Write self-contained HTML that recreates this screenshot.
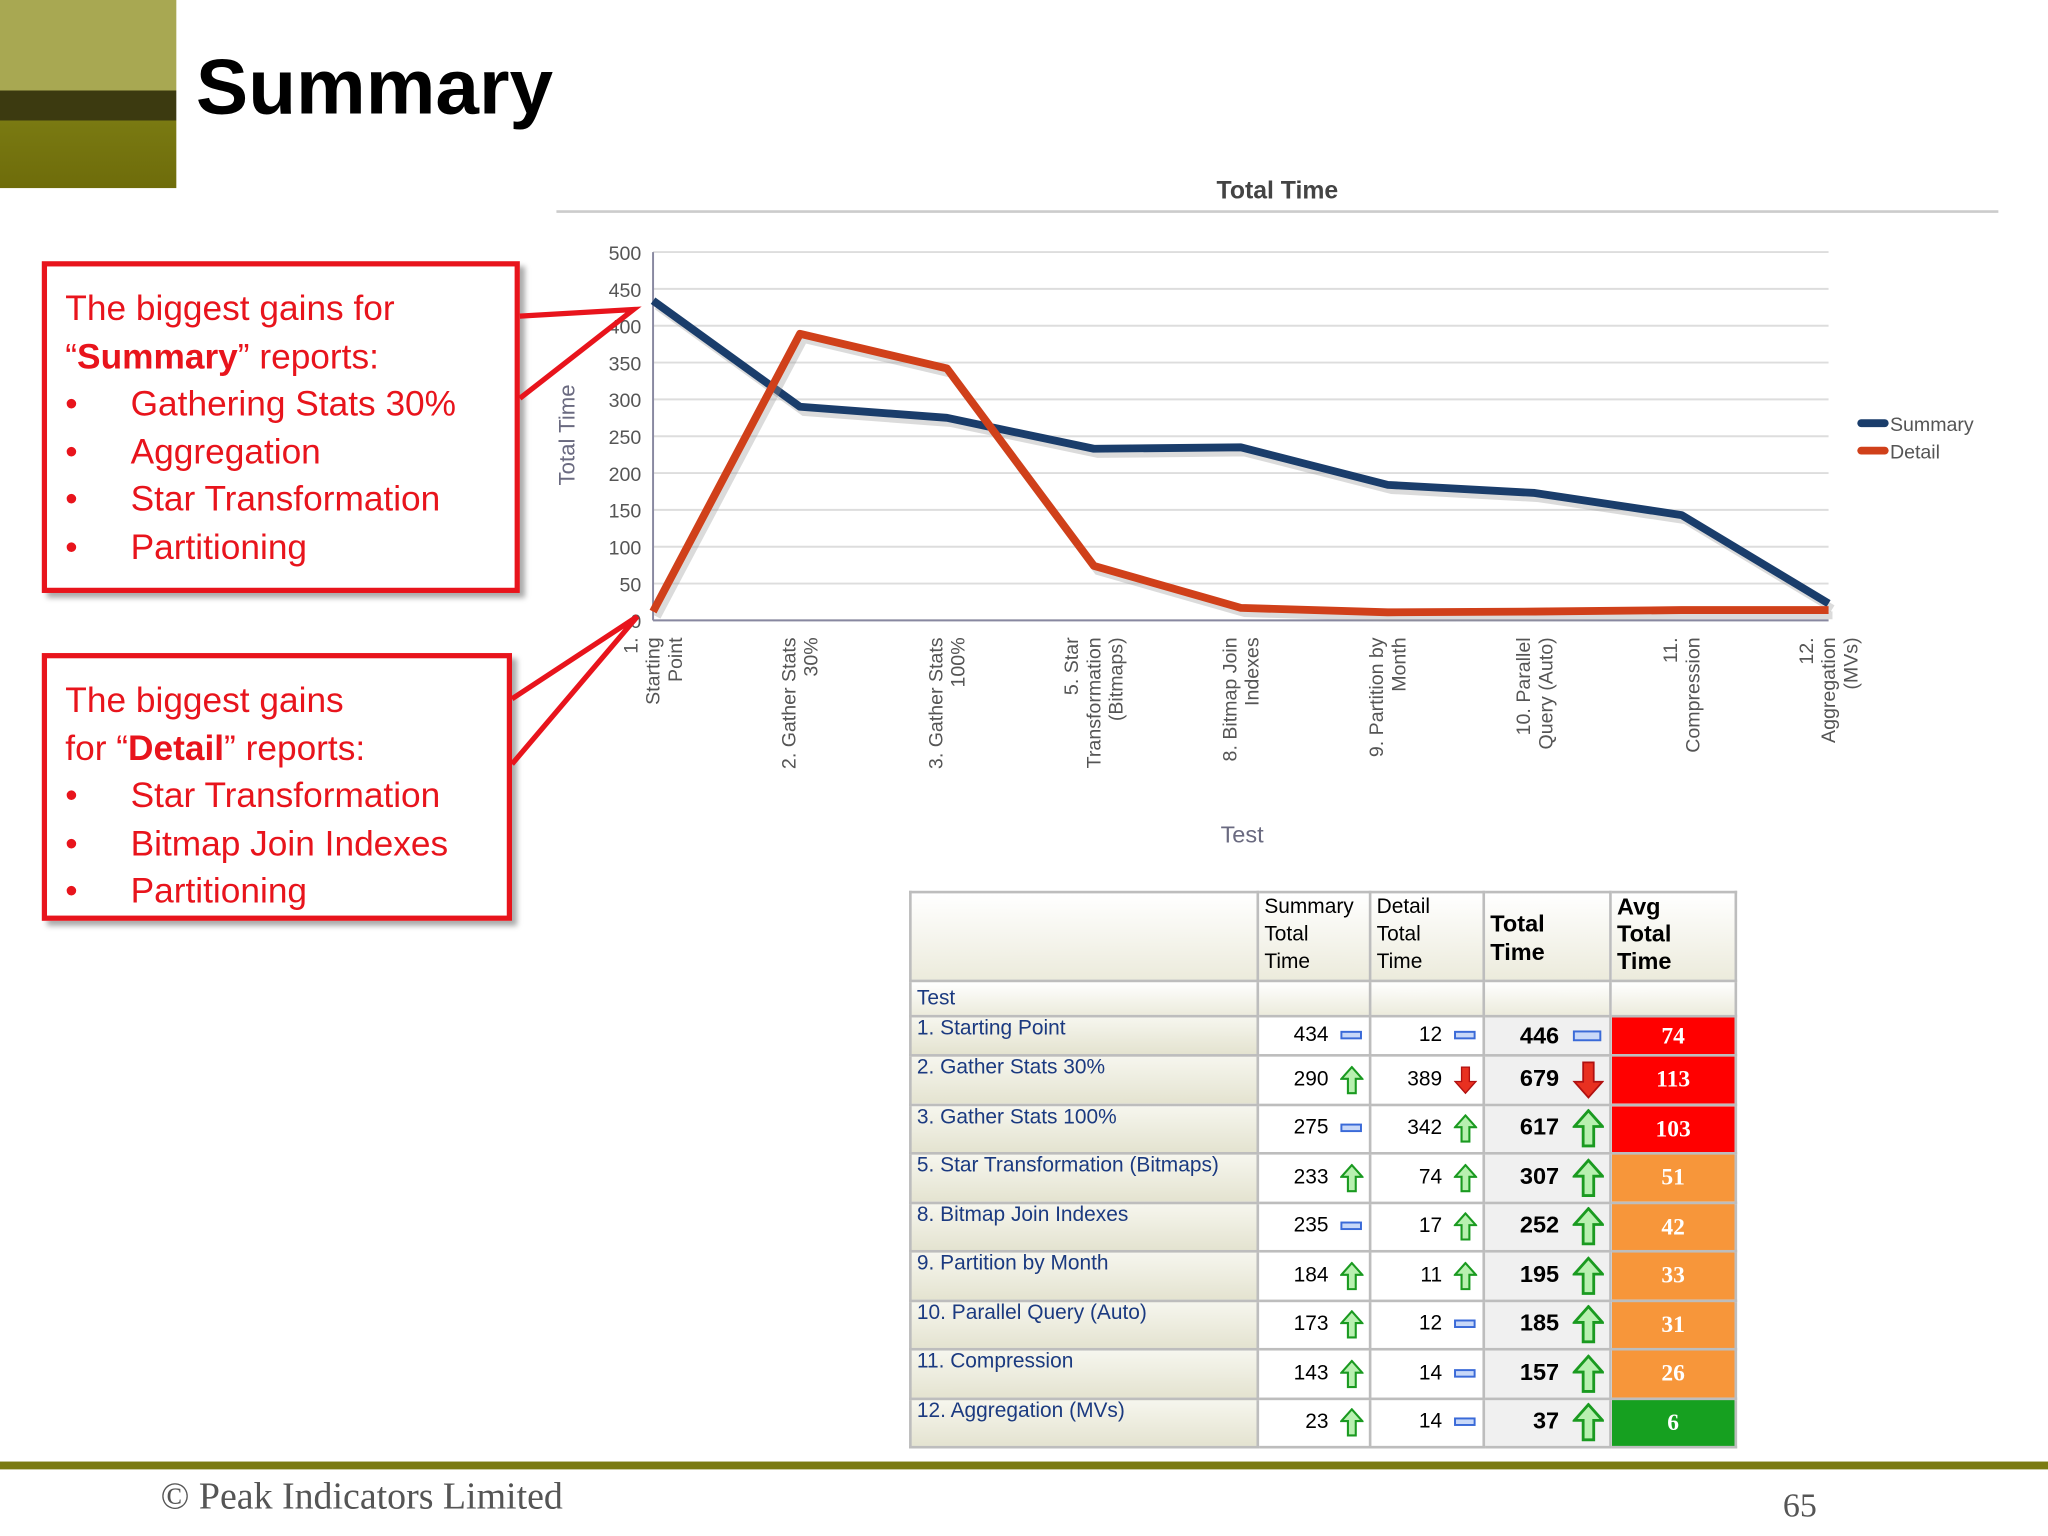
<!DOCTYPE html>
<html><head><meta charset="utf-8"><style>
body{margin:0;width:2048px;height:1536px;overflow:hidden;background:#fff;font-family:"Liberation Sans",sans-serif}
#w{position:absolute;left:0;top:0;width:1568px;height:1176px;transform:scale(1.30612);transform-origin:0 0}
.a{position:absolute}
.box{position:absolute;border:4px solid #e8141c;box-shadow:4px 4px 4px #aaa;background:#fff;color:#e8141c;font-size:27px;line-height:36.5px;padding:14px 14px;box-sizing:border-box}
.box ul{margin:0;padding:0;list-style:none}
.box li{position:relative;padding-left:50px}
.box li:before{content:"•";position:absolute;left:0}
table{position:absolute;left:696px;top:682px;width:632px;table-layout:fixed;border-collapse:collapse;font-family:"Liberation Sans",sans-serif;font-size:16px;color:#000}
td{border:2px solid #bdbdbd;padding:0 4px;box-sizing:border-box;white-space:nowrap;overflow:hidden}
.h td{background:linear-gradient(#fff,#ecebdc);vertical-align:top}
.lab{background:linear-gradient(#f6f6ee,#e4e3d0);color:#1b3a80;vertical-align:top}
.n{text-align:right;background:#fff}
.t{text-align:right;background:#f0f0f0;font-weight:bold}
.av{color:#fff;font-weight:bold;text-align:center;font-family:"Liberation Serif",serif;font-size:18px}
</style></head><body><div id="w">
<div class="a" style="left:0;top:0;width:135px;height:144px;background:linear-gradient(#a8a852 0,#a8a852 48%,#3c3a10 48%,#3c3a10 64%,#7a7a12 64%,#6e6c0a 100%)"></div>
<div class="a" style="left:150px;top:32px;font-size:60px;font-weight:bold;color:#000">Summary</div>
<div class="box" style="left:32px;top:200px;width:366px;height:254px">The biggest gains for<br>“<b>Summary</b>” reports:<ul><li>Gathering Stats 30%</li><li>Aggregation</li><li>Star Transformation</li><li>Partitioning</li></ul></div>
<div class="box" style="left:32px;top:500px;width:360px;height:205px">The biggest gains<br>for “<b>Detail</b>” reports:<ul><li>Star Transformation</li><li>Bitmap Join Indexes</li><li>Partitioning</li></ul></div>
<svg class="a" style="left:0;top:0" width="1568" height="1176" id="chart">
<text x="978" y="152" text-anchor="middle" font-size="19" font-weight="bold" fill="#444">Total Time</text>
<line x1="426" y1="162" x2="1530" y2="162" stroke="#ccc" stroke-width="2"/>
<g id="grid"></g><g id="lines"></g>
<text transform="translate(440,333) rotate(-90)" text-anchor="middle" font-size="17" fill="#6a6a80">Total Time</text>
<text x="951" y="645" text-anchor="middle" font-size="18" fill="#6a6a80">Test</text>
<g><line x1="1425" y1="324" x2="1443" y2="324" stroke="#1a3d6b" stroke-width="6" stroke-linecap="round"/><text x="1447" y="330" font-size="15" fill="#555">Summary</text>
<line x1="1425" y1="345" x2="1443" y2="345" stroke="#d0401a" stroke-width="6" stroke-linecap="round"/><text x="1447" y="351" font-size="15" fill="#555">Detail</text></g>
<polyline points="398,242 485,237 398,305" fill="none" stroke="#e8141c" stroke-width="4"/>
<polyline points="392,535 488,472 392,585" fill="none" stroke="#e8141c" stroke-width="4"/>
</svg>
<table>
<colgroup><col style="width:266px"><col style="width:86px"><col style="width:87px"><col style="width:97px"><col style="width:96px"></colgroup>
<tr class="h" style="height:68px"><td></td><td style="line-height:21px">Summary<br>Total<br>Time</td><td style="line-height:21px">Detail<br>Total<br>Time</td><td style="font-weight:bold;font-size:18px;line-height:22px;padding-top:12px">Total<br>Time</td><td style="font-weight:bold;font-size:18px;line-height:21px">Avg<br>Total<br>Time</td></tr>
<tr class="h" style="height:27px"><td style="color:#1b3a80;vertical-align:middle">Test</td><td></td><td></td><td></td><td></td></tr>
<tbody id="tb"></tbody></table>
<div class="a" style="left:0;top:1119px;width:1568px;height:6px;background:#7a7a12"></div>
<div class="a" style="left:123px;top:1130px;font-family:'Liberation Serif',serif;font-size:29px;color:#555">© Peak Indicators Limited</div>
<div class="a" style="left:1365px;top:1138px;font-family:'Liberation Serif',serif;font-size:26px;color:#555">65</div>
</div>
<script>
const categories=["1. Starting Point","2. Gather Stats 30%","3. Gather Stats 100%","5. Star Transformation (Bitmaps)","8. Bitmap Join Indexes","9. Partition by Month","10. Parallel Query (Auto)","11. Compression","12. Aggregation (MVs)"];
const xLabels=[["1.","Starting","Point"],["2. Gather Stats","30%"],["3. Gather Stats","100%"],["5. Star","Transformation","(Bitmaps)"],["8. Bitmap Join","Indexes"],["9. Partition by","Month"],["10. Parallel","Query (Auto)"],["11.","Compression"],["12.","Aggregation","(MVs)"]];
const summaryValues=[434,290,275,233,235,184,173,143,23];
const detailValues=[12,389,342,74,17,11,12,14,14];
const totalValues=[446,679,617,307,252,195,185,157,37];
const avgValues=[74,113,103,51,42,33,31,26,6];
const summaryTrend=["eq","up","eq","up","eq","up","up","up","up"];
const detailTrend=["eq","down","up","up","up","up","eq","eq","eq"];
const totalTrend=["eq","down","up","up","up","up","up","up","up"];
const yTicks=[0,50,100,150,200,250,300,350,400,450,500];
const NS="http://www.w3.org/2000/svg";
const X0=500,X1=1400,Y0=475,Y1=193;
const xs=i=>X0+(X1-X0)*i/(categories.length-1);
const ys=v=>Y0-(Y0-Y1)*v/500;
const grid=document.getElementById('grid'),lines=document.getElementById('lines');
function mk(t,a,p){const e=document.createElementNS(NS,t);for(const k in a)e.setAttribute(k,a[k]);p.appendChild(e);return e;}
yTicks.forEach(v=>{mk('line',{x1:X0,x2:X1,y1:ys(v),y2:ys(v),stroke:'#ddd','stroke-width':1.5},grid);
const t=mk('text',{x:X0-9,y:ys(v)+6,'text-anchor':'end','font-size':15,fill:'#555'},grid);t.textContent=v;

});
mk('line',{x1:X0,x2:X0,y1:Y1,y2:Y0,stroke:'#8888a0','stroke-width':1.5},grid);
mk('line',{x1:X0,x2:X1,y1:Y0,y2:Y0,stroke:'#8888a0','stroke-width':1.5},grid);
xLabels.forEach((ls,i)=>{const g=mk('text',{transform:`translate(${xs(i)},488) rotate(-90)`,'text-anchor':'end','font-size':15,fill:'#555'},grid);


const n=ls.length;ls.forEach((s,j)=>{const sp=mk('tspan',{x:0,y:(j-(n-1)/2)*17+5},g);sp.textContent=s;});});
function line(vals,col,name){const pts=vals.map((v,i)=>xs(i)+','+ys(v)).join(' ');
mk('polyline',{points:pts,fill:'none',stroke:'#999','stroke-width':6,opacity:.35,transform:'translate(3,4)'},lines);
const p=mk('polyline',{points:pts,fill:'none',stroke:col,'stroke-width':6,'stroke-linejoin':'round'},lines);

}
line(summaryValues,'#1a3d6b','summary-line');line(detailValues,'#d0401a','detail-line');
function icon(t,big){const s=big?1.35:1;
if(t==='eq')return `<svg width="${18*s}" height="${10*s}" style="vertical-align:middle"><rect x="1" y="${2*s}" width="${15*s}" height="${5*s}" fill="#c8d8f8" stroke="#3a6ad8" stroke-width="1.5"/></svg>`;
if(t==='up')return `<svg width="${18*s}" height="${22*s}" viewBox="0 0 18 22" style="vertical-align:middle"><path d="M9 1 L17 10 L12 10 L12 21 L6 21 L6 10 L1 10Z" fill="#b8f0b0" stroke="#1a9a20" stroke-width="1.6"/></svg>`;
return `<svg width="${18*s}" height="${22*s}" viewBox="0 0 18 22" style="vertical-align:middle"><path d="M6 1 L12 1 L12 12 L17 12 L9 21 L1 12 L6 12Z" fill="#e83020" stroke="#b01010" stroke-width="1"/></svg>`;}
const tb=document.getElementById('tb');
categories.forEach((c,i)=>{const tr=document.createElement('tr');tr.style.height=(i===0?30:37.5)+'px';


const av=avgValues[i],bg=av>=60?'#f00':av>=20?'#f7963a':'#16a020';
tr.innerHTML=`<td class="lab">${c}</td><td class="n">${summaryValues[i]} &nbsp;${icon(summaryTrend[i])}</td><td class="n">${detailValues[i]} &nbsp;${icon(detailTrend[i])}</td><td class="t" style="font-size:18px">${totalValues[i]} &nbsp;${icon(totalTrend[i],1)}</td><td class="av" style="background:${bg}">${av}</td>`;
tb.appendChild(tr);});
</script></body></html>
